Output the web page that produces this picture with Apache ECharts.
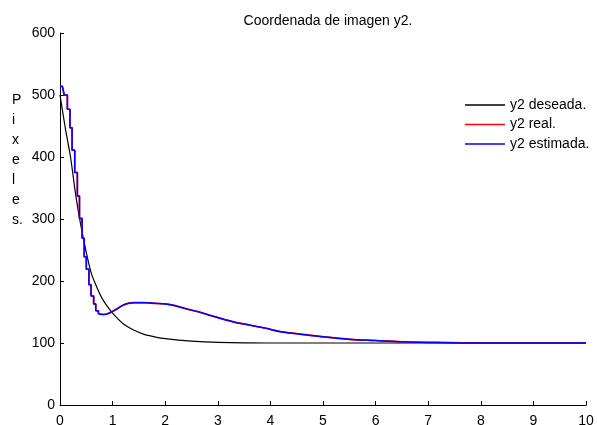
<!DOCTYPE html>
<html>
<head>
<meta charset="utf-8">
<script src="https://cdn.jsdelivr.net/npm/echarts@6/dist/echarts.min.js"></script>
<style>
  html, body { margin: 0; padding: 0; background: #ffffff; }
  #chart { width: 597px; height: 425px; }
</style>
</head>
<body>
<div id="chart"></div>
<script>
// deseada (referencia)
const tDeseada = [0, 0.1, 0.2, 0.3, 0.4, 0.5, 0.6, 0.7, 0.8, 0.9, 1.0, 1.2, 1.4, 1.6, 1.8, 2.0, 2.5, 3, 4, 5, 6, 8, 10]
const yDeseada = [500, 447, 400, 338, 288, 246, 211, 190, 172, 159, 148, 131, 121, 114, 110, 107, 103, 101, 100, 100, 100, 100, 100]

// tramo escalonado del inicio (muestreo de la camara)
const tPasos = [0, 0.045, 0.08, 0.14, 0.19, 0.23, 0.28, 0.33, 0.37, 0.42, 0.46, 0.5, 0.55, 0.59, 0.64, 0.68, 0.73]
const yPasos = [514, 511, 500, 477, 447, 411, 375, 337, 301, 269, 239, 219, 194, 176, 163, 152, 147]

// resto de la curva estimada / real
const tSuave = [0.73, 0.82, 0.9, 1.0, 1.1, 1.2, 1.3, 1.4, 1.6, 1.8, 2.0, 2.2, 2.4, 2.6, 2.8, 3.0, 3.3, 3.6, 3.9, 4.2, 4.5, 5.0, 5.5, 6.0, 6.5, 7.0, 8, 9, 10]
const ySuave = [147, 146, 147, 151, 156, 161, 164, 165, 165, 164, 163, 160, 155, 151, 146, 141, 134, 129, 124, 118, 115, 110, 106, 104, 102, 101, 100, 100, 100]

const xTicks = [0, 10, 1]
const yTicks = [0, 600, 100]

const pares = (xs, ys) => xs.map((x, i) => [x, ys[i]])

const chart = echarts.init(document.getElementById('chart'))
const fuente = 'Liberation Sans, Arial, sans-serif'

const option = {
  animation: false,
  backgroundColor: '#ffffff',
  textStyle: { fontFamily: fuente },
  title: {
    text: 'Coordenada de imagen y2.',
    left: 323,
    textAlign: 'center',
    top: 9,
    textStyle: { fontSize: 14, fontWeight: 'normal', color: '#000', fontFamily: fuente }
  },
  grid: { left: 60, right: 11, top: 33, bottom: 20, containLabel: false, outerBoundsMode: 'none' },
  legend: {
    orient: 'vertical',
    left: 460,
    top: 92,
    icon: 'rect',
    itemWidth: 40,
    itemHeight: 1.5,
    itemGap: 3.5,
    textStyle: { fontSize: 14, lineHeight: 16, color: '#000', fontFamily: fuente },
    data: ['y2 deseada.', 'y2 real.', 'y2 estimada.']
  },
  graphic: [{
    type: 'text',
    left: 12,
    top: 90,
    style: {
      text: 'P\ni\nx\ne\nl\ne\ns.',
      fontSize: 14,
      lineHeight: 20,
      fill: '#000',
      fontFamily: fuente
    }
  }],
  xAxis: {
    type: 'value',
    min: xTicks[0],
    max: xTicks[1],
    interval: xTicks[2],
    splitLine: { show: false },
    axisLine: { lineStyle: { color: '#000', width: 1 } },
    axisTick: { inside: true, length: 4, lineStyle: { color: '#000' } },
    axisLabel: { color: '#000', fontSize: 14, margin: 9 }
  },
  yAxis: {
    type: 'value',
    min: yTicks[0],
    max: yTicks[1],
    interval: yTicks[2],
    splitLine: { show: false },
    axisLine: { show: true, lineStyle: { color: '#000', width: 1 } },
    axisTick: { show: true, inside: true, length: 4, lineStyle: { color: '#000' } },
    axisLabel: { color: '#000', fontSize: 14, margin: 5 }
  },
  series: [
    {
      name: 'y2 deseada.',
      type: 'line',
      symbol: 'none',
      smooth: 0.3,
      data: pares(tDeseada, yDeseada),
      lineStyle: { color: '#000000', width: 1.2 },
      itemStyle: { color: '#000000' },
      z: 3
    },
    {
      name: 'y2 real.',
      type: 'line',
      symbol: 'none',
      step: 'end',
      data: pares(tPasos, yPasos),
      lineStyle: { color: '#ff0000', width: 1.7 },
      itemStyle: { color: '#ff0000' },
      z: 4
    },
    {
      name: 'y2 real.',
      type: 'line',
      symbol: 'none',
      smooth: 0.3,
      data: pares(tSuave, ySuave),
      lineStyle: { color: '#ff0000', width: 1.7 },
      itemStyle: { color: '#ff0000' },
      z: 4
    },
    {
      name: 'y2 estimada.',
      type: 'line',
      symbol: 'none',
      step: 'end',
      data: pares(tPasos, yPasos),
      lineStyle: { color: '#0000ff', width: 1.5 },
      itemStyle: { color: '#0000ff' },
      z: 5
    },
    {
      name: 'y2 estimada.',
      type: 'line',
      symbol: 'none',
      smooth: 0.3,
      data: pares(tSuave, ySuave),
      lineStyle: { color: '#0000ff', width: 1.5 },
      itemStyle: { color: '#0000ff' },
      z: 5
    }
  ]
}

chart.setOption(option)
</script>
</body>
</html>
